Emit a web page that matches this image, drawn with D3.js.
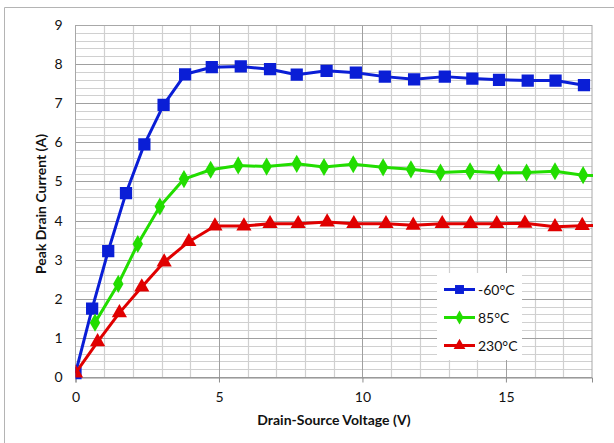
<!DOCTYPE html>
<html>
<head>
<meta charset="utf-8">
<script src="https://cdn.jsdelivr.net/npm/d3@7"></script>
<style>
  html, body { margin: 0; padding: 0; background: #fff; }
  svg { display: block; font-family: "Lato", "Open Sans", "Liberation Sans", sans-serif; }
</style>
</head>
<body>
<svg id="chart" width="614" height="443"></svg>
<script>
// Peak drain current vs drain-source voltage at three temperatures
const seriesNames = ["-60°C", "85°C", "230°C"];
const seriesColors = ["#0a1ed6", "#22dd00", "#e00000"];
const seriesShapes = ["square", "diamond", "triangle"];

const coldX = [0, 0.58, 1.14, 1.76, 2.4, 3.07, 3.82, 4.75, 5.76, 6.78, 7.71, 8.75, 9.77, 10.78, 11.8, 12.87, 13.83, 14.76, 15.76, 16.73, 17.72];
const coldY = [0.1, 1.75, 3.22, 4.7, 5.95, 6.96, 7.74, 7.92, 7.94, 7.87, 7.73, 7.83, 7.78, 7.68, 7.61, 7.68, 7.63, 7.6, 7.58, 7.58, 7.46];

const midX = [0.68, 1.49, 2.17, 2.94, 3.78, 4.71, 5.67, 6.66, 7.71, 8.66, 9.68, 10.72, 11.69, 12.72, 13.75, 14.75, 15.72, 16.71, 17.69, 18.7];
const midY = [1.39, 2.38, 3.4, 4.36, 5.06, 5.3, 5.41, 5.38, 5.45, 5.37, 5.44, 5.36, 5.31, 5.23, 5.26, 5.22, 5.23, 5.26, 5.16, 5.14];

const hotX = [0, 0.77, 1.53, 2.31, 3.09, 3.95, 4.86, 5.87, 6.78, 7.76, 8.77, 9.7, 10.82, 11.77, 12.78, 13.77, 14.68, 15.66, 16.71, 17.66, 18.7];
const hotY = [0.1, 0.9, 1.64, 2.3, 2.94, 3.46, 3.86, 3.86, 3.92, 3.92, 3.96, 3.92, 3.92, 3.88, 3.92, 3.92, 3.92, 3.93, 3.84, 3.87, 3.88];

const xTicks = [0, 5, 10, 15];
const yTicks = [0, 1, 2, 3, 4, 5, 6, 7, 8, 9];
const xTitle = "Drain-Source Voltage (V)";
const yTitle = "Peak Drain Current (A)";

const series = [
  { name: seriesNames[0], color: seriesColors[0], shape: seriesShapes[0], pts: coldX.map((x, i) => [x, coldY[i]]) },
  { name: seriesNames[1], color: seriesColors[1], shape: seriesShapes[1], pts: midX.map((x, i) => [x, midY[i]]) },
  { name: seriesNames[2], color: seriesColors[2], shape: seriesShapes[2], pts: hotX.map((x, i) => [x, hotY[i]]) }
];

const svg = d3.select("#chart");
const plot = { left: 75.5, top: 25, right: 592, bottom: 377 };

const x = d3.scaleLinear().domain([0, 18]).range([plot.left, plot.right]);
const y = d3.scaleLinear().domain([0, 9]).range([plot.bottom, plot.top]);

// outer chart frame (left and top edges visible)
svg.append("path")
  .attr("d", "M4.5,443 V7.5 H614")
  .attr("fill", "none").attr("stroke", "#b4b4b4").attr("stroke-width", 1);

const grid = svg.append("g");

// minor horizontal gridlines every 0.2 A
const yMinor = d3.range(0, 9.0001, 0.2).filter(v => Math.abs(v - Math.round(v)) > 1e-6);
grid.selectAll("line.hmin").data(yMinor).join("line")
  .attr("x1", plot.left).attr("x2", plot.right)
  .attr("y1", d => Math.round(y(d)) + 0.5).attr("y2", d => Math.round(y(d)) + 0.5)
  .attr("stroke", "#d0d0d0").attr("stroke-width", 1);

// minor vertical gridlines every 1 V
const xMinor = d3.range(1, 18).filter(v => v % 5 !== 0);
grid.selectAll("line.vmin").data(xMinor).join("line")
  .attr("x1", d => Math.round(x(d)) + 0.5).attr("x2", d => Math.round(x(d)) + 0.5)
  .attr("y1", plot.top).attr("y2", plot.bottom)
  .attr("stroke", "#d0d0d0").attr("stroke-width", 1.2);

// major gridlines
grid.selectAll("line.hmaj").data(yTicks.slice(1)).join("line")
  .attr("x1", plot.left).attr("x2", plot.right)
  .attr("y1", d => Math.round(y(d)) + 0.5).attr("y2", d => Math.round(y(d)) + 0.5)
  .attr("stroke", "#a0a0a0").attr("stroke-width", 1);
grid.selectAll("line.vmaj").data(xTicks.slice(1)).join("line")
  .attr("x1", d => Math.round(x(d)) + 0.5).attr("x2", d => Math.round(x(d)) + 0.5)
  .attr("y1", plot.top).attr("y2", plot.bottom)
  .attr("stroke", "#a0a0a0").attr("stroke-width", 1);

// plot area border
svg.append("rect")
  .attr("x", plot.left).attr("y", plot.top + 0.5)
  .attr("width", plot.right - plot.left).attr("height", plot.bottom - plot.top)
  .attr("fill", "none").attr("stroke", "#a8a8a8").attr("stroke-width", 1);

// axes
const xAxis = svg.append("g")
  .attr("transform", `translate(0,${plot.bottom + 0.5})`)
  .call(d3.axisBottom(x).tickValues(xTicks).tickSize(5).tickPadding(10).tickFormat(d3.format("d")));
xAxis.select(".domain").attr("stroke", "#8c8c8c");
xAxis.selectAll(".tick line").attr("stroke", "#8c8c8c");
xAxis.selectAll("text").attr("font-size", 14).attr("fill", "#111")
  .attr("font-family", "Lato, 'Open Sans', sans-serif");

const yAxis = svg.append("g")
  .attr("transform", `translate(${plot.left},0)`)
  .call(d3.axisLeft(y).tickValues(yTicks).tickSize(0).tickPadding(13).tickFormat(d3.format("d")));
yAxis.select(".domain").remove();
yAxis.selectAll("text").attr("font-size", 14).attr("fill", "#111")
  .attr("font-family", "Lato, 'Open Sans', sans-serif");

// axis titles
svg.append("text")
  .attr("x", 334).attr("y", 425)
  .attr("text-anchor", "middle")
  .attr("font-size", 14).attr("font-weight", "bold").attr("fill", "#111")
  .text(xTitle);
svg.append("text")
  .attr("transform", "translate(46,204) rotate(-90)")
  .attr("text-anchor", "middle")
  .attr("font-size", 14).attr("font-weight", "bold").attr("fill", "#111")
  .text(yTitle);

// clipping so lines stop at the plot edge
svg.append("clipPath").attr("id", "plotClip")
  .append("rect").attr("x", plot.left).attr("y", plot.top - 10)
  .attr("width", plot.right - plot.left + 1).attr("height", plot.bottom - plot.top + 20);

const markerSize = { square: 150, diamond: 95, triangle: 100 };
const legendMarkerSize = { square: 80, diamond: 55, triangle: 60 };
const symbolType = { square: d3.symbolSquare, diamond: d3.symbolDiamond, triangle: d3.symbolTriangle };

const line = d3.line().x(d => x(d[0])).y(d => y(d[1]));
const marks = svg.append("g").attr("clip-path", "url(#plotClip)");

series.forEach(s => {
  const g = marks.append("g");
  g.append("path")
    .datum(s.pts)
    .attr("d", line)
    .attr("fill", "none")
    .attr("stroke", s.color)
    .attr("stroke-width", 3)
    .attr("stroke-linejoin", "round");
  g.selectAll("path.m").data(s.pts.filter(p => p[0] <= 18)).join("path")
    .attr("class", "m")
    .attr("transform", d => `translate(${x(d[0])},${y(d[1])})`)
    .attr("d", d3.symbol().type(symbolType[s.shape]).size(markerSize[s.shape]))
    .attr("fill", s.color);
});

// legend
const legend = svg.append("g");
legend.append("rect")
  .attr("x", 437).attr("y", 273).attr("width", 85).attr("height", 87)
  .attr("fill", "#ffffff");
series.forEach((s, i) => {
  const ly = 289.5 + i * 28;
  legend.append("line")
    .attr("x1", 444).attr("x2", 475).attr("y1", ly).attr("y2", ly)
    .attr("stroke", s.color).attr("stroke-width", 3);
  legend.append("path")
    .attr("transform", `translate(459.5,${ly})`)
    .attr("d", d3.symbol().type(symbolType[s.shape]).size(legendMarkerSize[s.shape])())
    .attr("fill", s.color);
  legend.append("text")
    .attr("x", 478).attr("y", ly + 5)
    .attr("font-size", 14).attr("fill", "#111")
    .text(s.name);
});
</script>
</body>
</html>
